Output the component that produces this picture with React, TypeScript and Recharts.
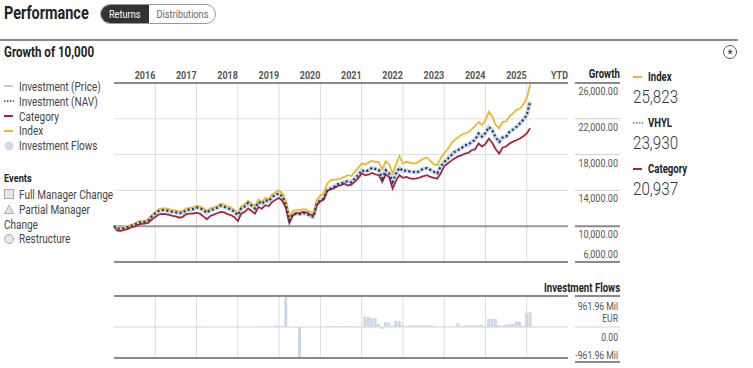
import React from "react";
import {
  LineChart,
  Line,
  BarChart,
  Bar,
  XAxis,
  YAxis,
  CartesianGrid,
  ReferenceLine,
} from "recharts";

const FONT = 'Roboto, "Noto Sans", sans-serif';

// growth of 10,000, month-end values from Dec 2015 (index 0)
const vhylValues = [
  10000, 9750, 9700, 9800, 9900, 10050, 10150, 10400, 10450, 10500, 10650, 11100,
  11420, 11700, 11800, 11780, 11700, 11600, 11550, 11450, 11500, 11800, 11850, 11900,
  12090, 12000, 11800, 11500, 11800, 11900, 12050, 12300, 12200, 12000, 11900, 11600,
  11230, 12000, 12200, 12600, 12300, 11980, 12700, 12500, 12900, 12800, 13270, 13500,
  13650, 13300, 12400, 10670, 11340, 11400, 11350, 11450, 11400, 11150, 11040, 12540,
  12900, 13100, 14020, 14210, 14400, 14690, 14750, 14950, 15030, 14900, 15330, 15700,
  16260, 16100, 16250, 16520, 16400, 16300, 15330, 16250, 15900, 14950, 15900, 16520,
  16150, 16250, 16100, 16070, 16000, 16200, 16440, 16500, 16300, 16070, 15900, 16700,
  17180, 17500, 17900, 18300, 18500, 18700, 19050, 19100, 19420, 19650, 20360, 20000,
  20400, 21090, 20700, 19900, 19420, 19900, 20000, 20530, 20800, 21100, 21460, 21900,
  22400, 23930,
];

const indexValues = [
  10000, 9800, 9750, 9850, 9950, 10100, 10250, 10500, 10550, 10600, 10750, 11250,
  11600, 11900, 12000, 11980, 11900, 11800, 11750, 11650, 11700, 12000, 12050, 12100,
  12300, 12200, 12000, 11700, 12000, 12100, 12250, 12500, 12400, 12200, 12100, 11800,
  11450, 12200, 12450, 12850, 12550, 12250, 12950, 12750, 13150, 13050, 13550, 13800,
  14000, 13650, 12750, 11000, 11700, 11800, 11800, 11900, 11850, 11600, 11500, 13000,
  13400, 13700, 14770, 15140, 15200, 15220, 15350, 15510, 15700, 15600, 16070, 16520,
  17000, 16900, 17100, 17290, 17200, 17150, 16330, 17250, 16900, 15890, 16900, 17820,
  17000, 17200, 17100, 17000, 17050, 17300, 17560, 17650, 17300, 16900, 16810, 17600,
  18120, 18600, 19200, 19610, 19900, 20200, 20360, 20500, 20810, 21200, 21650, 21300,
  21840, 22770, 22200, 21300, 20920, 21650, 21700, 22290, 22600, 23000, 23150, 23600,
  24270, 25823,
];

const categoryValues = [
  10000, 9500, 9480, 9600, 9680, 9900, 9950, 10150, 10250, 10300, 10400, 10750,
  11040, 11300, 11370, 11350, 11280, 11150, 11100, 10950, 11050, 11350, 11400, 11420,
  11490, 11400, 11100, 10780, 11150, 11300, 11450, 11600, 11550, 11350, 11250, 11000,
  10600, 11400, 11600, 11980, 11700, 11400, 12160, 11950, 12350, 12250, 12710, 12950,
  13160, 12800, 12000, 10370, 11200, 11450, 11500, 11600, 11550, 11300, 11250, 12400,
  12750, 13000, 13940, 14100, 14250, 14470, 14600, 14750, 14550, 14650, 14950, 15330,
  15890, 15700, 15750, 15950, 15800, 15700, 14950, 15800, 15500, 14210, 15100, 15700,
  15400, 15500, 15350, 15300, 15350, 15450, 15590, 15700, 15500, 15400, 15330, 15900,
  16700, 17000, 17300, 17560, 17800, 17900, 18120, 18200, 18490, 18600, 19240, 18900,
  19200, 19800, 19300, 18600, 18120, 18800, 18900, 19240, 19450, 19600, 19800, 20050,
  20360, 20937,
];

// monthly investment flows, Mil EUR, from Jan 2016
const flowValues = [
  2, 1, 3, 2, 1, 2, 3, 2, 1, 4,
  12, 15, 6, 5, 4, 3, 2, 2, 1, 2,
  3, 2, 4, 8, 10, 8, 6, 3, 2, 1,
  2, 3, 2, 1, 2, 3, 2, 4, 6, 8,
  5, 7, 10, 8, 12, 15, 50, 45, 20, 961.96,
  15, 5, -20, -961.96, 8, 5, 6, 4, 7, 5,
  6, 30, 28, 22, 25, 15, 12, 30, 28, 18,
  10, 8, 320, 310, 270, 285, 100, -60, 150, 140,
  40, 200, 190, 60, 20, 45, 50, 55, 45, 40,
  50, 45, 35, 10, 8, 12, 15, 10, 20, 110,
  20, 45, 55, 40, 50, 45, 60, -50, 250, 255,
  240, 60, 45, 70, 100, 95, 170, 165, 30, 440,
  455,
];

const yearTicks = [12, 24, 36, 48, 60, 72, 84, 96, 108, 120, 132];
const yearLabels = ["2016", "2017", "2018", "2019", "2020", "2021", "2022", "2023", "2024", "2025", "YTD"];
const yearLines = [12, 24, 36, 48, 60, 72, 84, 96, 108, 120];
const growthTicks = [6000, 10000, 14000, 18000, 22000, 26000];
const flowTicks = [-961.96, 0, 961.96];

const legendItems = [
  { label: "Investment (Price)", kind: "line", color: "#b9cde6" },
  { label: "Investment (NAV)", kind: "dots", color: "#213a6b" },
  { label: "Category", kind: "line", color: "#a6243e" },
  { label: "Index", kind: "line", color: "#ebb829" },
  { label: "Investment Flows", kind: "circle", color: "#d3dbea" },
];

const summary = [
  { name: "Index", value: "25,823", kind: "line", color: "#ebb829" },
  { name: "VHYL", value: "23,930", kind: "dots", color: "#4a6fa5" },
  { name: "Category", value: "20,937", kind: "line", color: "#a6243e" },
];

const growthData = vhylValues.map((v, i) => ({
  m: i,
  nav: v,
  index: indexValues[i],
  category: categoryValues[i],
}));
const flowData = flowValues.map((v, i) => ({ m: i + 1, flow: v }));

// narrow text: the reference uses a condensed face, so squeeze Roboto
function Cond({ children, sx = 0.8, origin = "left" }: { children: React.ReactNode; sx?: number; origin?: string }) {
  return (
    <span style={{ display: "inline-block", whiteSpace: "nowrap", transform: `scaleX(${sx})`, transformOrigin: origin }}>
      {children}
    </span>
  );
}

function SvgText(props: any) {
  const { x, y, anchor = "start", size = 11, weight = "normal", fill = "#555", sx = 0.82, children } = props;
  return (
    <text
      transform={`translate(${x},${y}) scale(${sx},1)`}
      textAnchor={anchor}
      fontFamily={FONT}
      fontSize={size}
      fontWeight={weight}
      fill={fill}
    >
      {children}
    </text>
  );
}

function Marker({ kind, color }: { kind: string; color: string }) {
  return (
    <svg width={10} height={10} style={{ marginRight: 5, flexShrink: 0 }}>
      {kind === "line" && <line x1={0} x2={9} y1={5} y2={5} stroke={color} strokeWidth={2} />}
      {kind === "dots" && (
        <line x1={0} x2={10} y1={5} y2={5} stroke={color} strokeWidth={1.5} strokeDasharray="1.5 1.5" />
      )}
      {kind === "circle" && <circle cx={5} cy={5} r={4.5} fill={color} />}
      {kind === "square" && <rect x={0.5} y={0.5} width={9} height={9} fill="#e6e6e6" stroke="#aaa" />}
      {kind === "triangle" && <polygon points="5,1 9.5,9.5 0.5,9.5" fill="#e6e6e6" stroke="#aaa" />}
      {kind === "ring" && <circle cx={5} cy={5} r={4.5} fill="#e6e6e6" stroke="#aaa" />}
    </svg>
  );
}

function YearTick(props: any) {
  const { x, y, payload } = props;
  const label = yearLabels[yearTicks.indexOf(payload.value)];
  return (
    <SvgText x={x} y={y} anchor="end" size={11.5} weight="bold" sx={0.78}>
      {label}
    </SvgText>
  );
}

function GrowthTick(props: any) {
  const { x, y, payload } = props;
  const dark = payload.value === 26000 || payload.value === 10000 || payload.value === 6000;
  const bottom = payload.value === 6000;
  const text = payload.value.toLocaleString("en-US", { minimumFractionDigits: 2 });
  return (
    <g>
      <line x1={x + 7} x2={x + 52} y1={y} y2={y} stroke={dark ? "#8a8a8a" : "#cfcfcf"} strokeWidth={dark ? 2 : 1} />
      <SvgText x={x + 50} y={bottom ? y - 4 : y + 12} anchor="end" size={11} sx={0.82}>
        {text}
      </SvgText>
    </g>
  );
}

function FlowTick(props: any) {
  const { x, y, payload } = props;
  if (payload.value > 0) {
    return (
      <g>
        <line x1={x + 7} x2={x + 52} y1={y} y2={y} stroke="#8a8a8a" strokeWidth={2} />
        <SvgText x={x + 50} y={y + 14} anchor="end" size={10.5}>961.96 Mil</SvgText>
        <SvgText x={x + 50} y={y + 26} anchor="end" size={10.5}>EUR</SvgText>
      </g>
    );
  }
  if (payload.value === 0) {
    return (
      <g>
        <line x1={x + 7} x2={x + 52} y1={y} y2={y} stroke="#cfcfcf" strokeWidth={1} />
        <SvgText x={x + 50} y={y + 14} anchor="end" size={10.5}>0.00</SvgText>
      </g>
    );
  }
  return (
    <g>
      <SvgText x={x + 50} y={y + 1} anchor="end" size={10.5}>-961.96 Mil</SvgText>
      <line x1={x + 7} x2={x + 52} y1={y + 4} y2={y + 4} stroke="#8a8a8a" strokeWidth={2} />
    </g>
  );
}

export default function App() {
  const base: React.CSSProperties = { position: "absolute", fontFamily: FONT, color: "#333", lineHeight: "normal" };
  return (
    <div style={{ position: "absolute", left: 0, top: 0, width: 753, height: 368, background: "#fff", overflow: "hidden" }}>
      <div style={{ ...base, left: 4, top: 1, fontSize: 19, fontWeight: "bold", color: "#222" }}>
        <Cond sx={0.76}>Performance</Cond>
      </div>
      <div
        style={{
          ...base,
          left: 100,
          top: 4,
          width: 114,
          height: 18,
          border: "1px solid #999",
          borderRadius: 10,
          display: "flex",
          overflow: "hidden",
          fontSize: 11.5,
        }}
      >
        <div style={{ width: 48, background: "#333", color: "#fff", display: "flex", alignItems: "center", justifyContent: "center" }}>
          <Cond sx={0.8} origin="center">Returns</Cond>
        </div>
        <div style={{ flex: 1, color: "#666", display: "flex", alignItems: "center", justifyContent: "center" }}>
          <Cond sx={0.8} origin="center">Distributions</Cond>
        </div>
      </div>
      <div style={{ position: "absolute", left: 0, top: 39, width: 738, height: 2, background: "#8a8a8a" }} />
      <div style={{ ...base, left: 4, top: 44, fontSize: 14.5, fontWeight: "bold", color: "#222" }}>
        <Cond sx={0.8}>Growth of 10,000</Cond>
      </div>
      <div
        style={{
          ...base,
          left: 723,
          top: 45,
          width: 12,
          height: 12,
          border: "1px solid #555",
          borderRadius: 7,
          fontSize: 12,
          lineHeight: "16px",
          textAlign: "center",
        }}
      >
        *
      </div>

      <div style={{ ...base, left: 4, top: 79, fontSize: 12.5, color: "#444" }}>
        {legendItems.map((it) => (
          <div key={it.label} style={{ display: "flex", alignItems: "center", height: 14.8 }}>
            <Marker kind={it.kind} color={it.color} />
            <Cond sx={0.8}>{it.label}</Cond>
          </div>
        ))}
        <div style={{ fontWeight: "bold", fontSize: 11.5, marginTop: 18, height: 16, color: "#222" }}>
          <Cond sx={0.8}>Events</Cond>
        </div>
        <div style={{ display: "flex", alignItems: "center", height: 15 }}>
          <Marker kind="square" color="#aaa" />
          <Cond sx={0.8}>Full Manager Change</Cond>
        </div>
        <div style={{ display: "flex", alignItems: "center", height: 15 }}>
          <Marker kind="triangle" color="#aaa" />
          <Cond sx={0.8}>Partial Manager</Cond>
        </div>
        <div style={{ height: 14.5 }}>
          <Cond sx={0.8}>Change</Cond>
        </div>
        <div style={{ display: "flex", alignItems: "center", height: 15 }}>
          <Marker kind="ring" color="#aaa" />
          <Cond sx={0.8}>Restructure</Cond>
        </div>
      </div>

      <div style={{ ...base, left: 560, top: 67, width: 60, textAlign: "right", fontSize: 12, fontWeight: "bold", color: "#222" }}>
        <Cond sx={0.8} origin="right">Growth</Cond>
      </div>
      {summary.map((s, i) => (
        <div key={s.name} style={{ ...base, left: 633, top: 70 + i * 46 }}>
          <div style={{ display: "flex", alignItems: "center", fontSize: 12, fontWeight: "bold", color: "#222" }}>
            <Marker kind={s.kind} color={s.color} />
            <Cond sx={0.8}>{s.name}</Cond>
          </div>
          <div style={{ fontSize: 19, fontWeight: 300, marginTop: 1, color: "#333" }}>
            <Cond sx={0.8}>{s.value}</Cond>
          </div>
        </div>
      ))}

      <div style={{ position: "absolute", left: 0, top: 0 }}>
        <LineChart width={753} height={280} data={growthData} margin={{ top: 63, right: 128, bottom: 18, left: 114 }}>
          <CartesianGrid vertical={false} stroke="#dcdcdc" horizontalValues={[14000, 18000, 22000]} />
          <XAxis
            orientation="top"
            type="number"
            dataKey="m"
            domain={[0, 132]}
            ticks={yearTicks}
            interval={0}
            height={20}
            tickSize={0}
            tickMargin={4}
            tickLine={false}
            axisLine={{ stroke: "#8a8a8a", strokeWidth: 2 }}
            tick={<YearTick />}
          />
          <YAxis
            orientation="right"
            domain={[6000, 26000]}
            ticks={growthTicks}
            interval={0}
            width={57}
            tickSize={0}
            tickMargin={0}
            axisLine={false}
            tickLine={false}
            tick={<GrowthTick />}
          />
          {yearLines.map((v) => (
            <ReferenceLine key={v} x={v} stroke="#dcdcdc" strokeWidth={1} />
          ))}
          <ReferenceLine y={10000} stroke="#9a9a9a" strokeWidth={2} />
          <ReferenceLine y={6000} stroke="#8a8a8a" strokeWidth={2} />
          <Line dataKey="nav" stroke="#c5d6ec" strokeWidth={4} dot={false} isAnimationActive={false} />
          <Line dataKey="category" stroke="#a6243e" strokeWidth={1.8} dot={false} isAnimationActive={false} />
          <Line dataKey="index" stroke="#ebb829" strokeWidth={1.8} dot={false} isAnimationActive={false} />
          <Line dataKey="nav" stroke="#213a6b" strokeWidth={2.2} strokeDasharray="2 2.5" dot={false} isAnimationActive={false} />
        </LineChart>
      </div>

      <div style={{ ...base, left: 480, top: 281, width: 140, textAlign: "right", fontSize: 12, fontWeight: "bold", color: "#222" }}>
        <Cond sx={0.8} origin="right">Investment Flows</Cond>
      </div>
      <div style={{ position: "absolute", left: 0, top: 280 }}>
        <BarChart width={753} height={88} data={flowData} margin={{ top: 16, right: 128, bottom: 10, left: 114 }}>
          <XAxis type="number" dataKey="m" domain={[0, 132]} hide />
          <YAxis
            orientation="right"
            domain={[-961.96, 961.96]}
            ticks={flowTicks}
            interval={0}
            width={57}
            tickSize={0}
            tickMargin={0}
            axisLine={false}
            tickLine={false}
            tick={<FlowTick />}
          />
          {yearLines.map((v) => (
            <ReferenceLine key={v} x={v} stroke="#dcdcdc" strokeWidth={1} />
          ))}
          <ReferenceLine y={0} stroke="#d6d6d6" strokeWidth={1} />
          <Bar dataKey="flow" fill="#cad6ea" barSize={3} isAnimationActive={false} />
          <ReferenceLine y={961.96} stroke="#8a8a8a" strokeWidth={2} />
          <ReferenceLine y={-961.96} stroke="#8a8a8a" strokeWidth={2} />
        </BarChart>
      </div>
    </div>
  );
}
